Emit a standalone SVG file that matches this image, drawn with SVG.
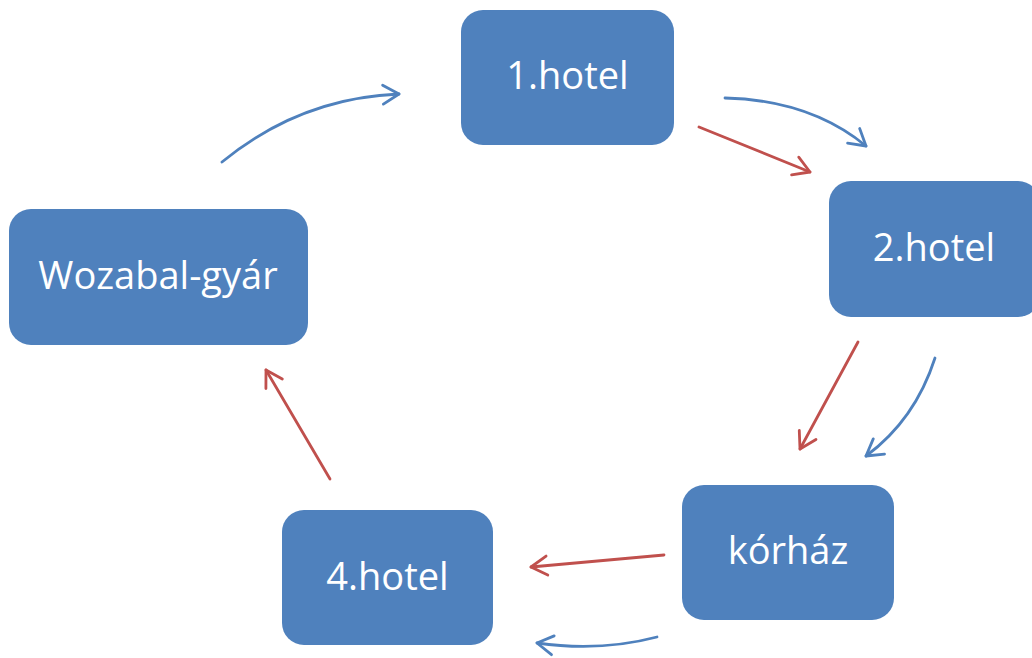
<svg xmlns="http://www.w3.org/2000/svg" width="1032" height="658" viewBox="0 0 1032 658">
<style>
.box{fill:#4F81BD;}
.lbl{fill:#FFFFFF;font-family:"Open Sans","Liberation Sans",sans-serif;font-size:38px;text-anchor:middle;}
.b{fill:none;stroke:#4F81BD;stroke-width:2.8;stroke-linecap:round;marker-end:url(#ab);}
.r{fill:none;stroke:#C0504D;stroke-width:2.8;stroke-linecap:round;marker-end:url(#ar);}
</style>
<defs>
<marker id="ab" markerUnits="userSpaceOnUse" viewBox="-20 -12 24 24" markerWidth="24" markerHeight="24" refX="0" refY="0" orient="auto">
<path d="M-16,-9.5 L0,0 L-16,9.5" fill="none" stroke="#4F81BD" stroke-width="2.8" stroke-linecap="round" stroke-linejoin="round"/>
</marker>
<marker id="ar" markerUnits="userSpaceOnUse" viewBox="-20 -12 24 24" markerWidth="24" markerHeight="24" refX="0" refY="0" orient="auto">
<path d="M-16,-9.5 L0,0 L-16,9.5" fill="none" stroke="#C0504D" stroke-width="2.8" stroke-linecap="round" stroke-linejoin="round"/>
</marker>
</defs>
<g id="connectors">
<path class="b" d="M725,98 Q810,100 866,146"/>
<path class="r" d="M699,127 L810,172"/>
<path class="r" d="M858,342 L800,449"/>
<path class="b" d="M935,358 Q915,420 866,456"/>
<path class="r" d="M664,555 L531,567"/>
<path class="b" d="M657,637 Q600,652 537,643"/>
<path class="r" d="M330,479 L266,370"/>
<path class="b" d="M222,162 Q300,98 399,94"/>
</g>
<g id="n1"><rect class="box" x="461" y="10" width="213" height="135" rx="22"/><text class="lbl" x="567.5" y="89">1.hotel</text></g>
<g id="n2"><rect class="box" x="829" y="181" width="211" height="136" rx="22"/><text class="lbl" x="934" y="261">2.hotel</text></g>
<g id="n3"><rect class="box" x="682" y="485" width="212" height="135" rx="22"/><text class="lbl" x="788" y="564">kórház</text></g>
<g id="n4"><rect class="box" x="282" y="510" width="211" height="135" rx="22"/><text class="lbl" x="387.5" y="590">4.hotel</text></g>
<g id="n5"><rect class="box" x="9" y="209" width="299" height="136" rx="22"/><text class="lbl" x="158" y="289">Wozabal-gyár</text></g>
</svg>
